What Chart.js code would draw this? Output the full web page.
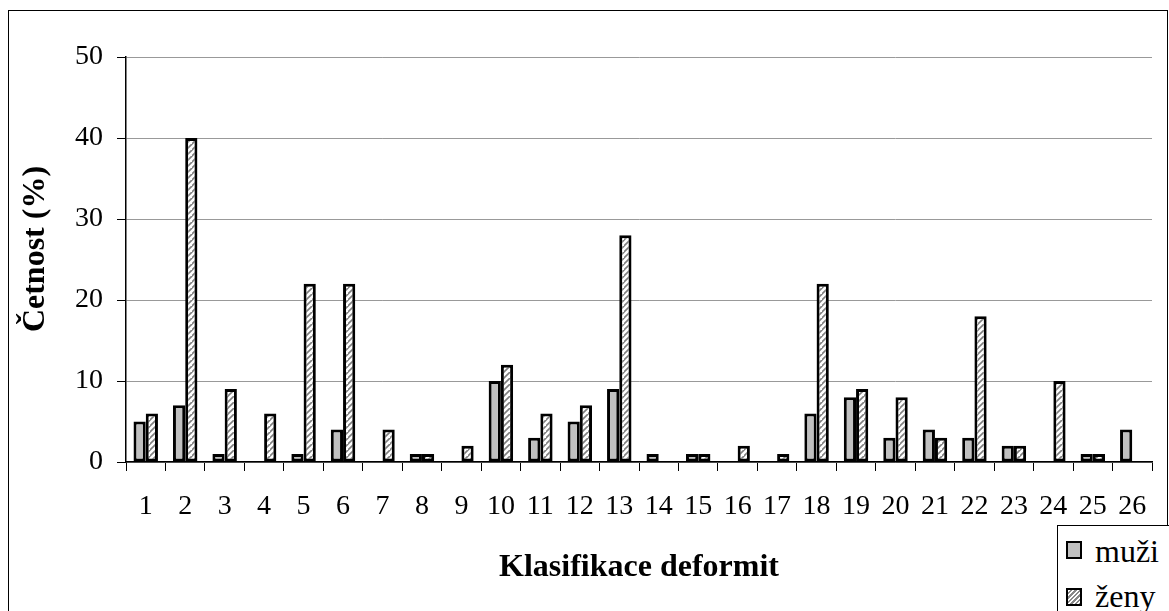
<!DOCTYPE html>
<html>
<head>
<meta charset="utf-8">
<script src="https://cdn.jsdelivr.net/npm/chart.js@4.4.0/dist/chart.umd.min.js"></script>
<style>
  html, body { margin: 0; padding: 0; background: #fff; overflow: hidden; }
  #wrap { position: relative; width: 1169px; height: 611px; }
  canvas { display: block; }
  #frame { position: absolute; left: 8px; top: 10px; width: 1160px; height: 640px; border: 1px solid #000; box-sizing: border-box; pointer-events: none; }
  #legend { position: absolute; left: 1057px; top: 525px; width: 130px; height: 100px; border: 1px solid #000; background: #fff; box-sizing: border-box; font-family: "Liberation Serif", "Times New Roman", serif; font-size: 32px; line-height: 32px; color: #000; }
  .txt { position: absolute; left: 37px; white-space: nowrap; }
  .sw { position: absolute; left: 8px; width: 12px; height: 14px; border: 2px solid #000; }
  .sw.m { background: #c0c0c0; }
  .sw.z { background: repeating-linear-gradient(135deg, #fff 0px, #fff 1.6px, #888 1.6px, #888 3.2px); }
</style>
</head>
<body>
<div id="wrap">
  <canvas id="c" width="1169" height="611"></canvas>
  <div id="frame"></div>
  <div id="legend">
    <div class="sw m" style="top:15px"></div><span class="txt" style="top:9px">muži</span>
    <div class="sw z" style="top:62px"></div><span class="txt" style="top:54px">ženy</span>
  </div>
</div>
<script>
const categories = ["1","2","3","4","5","6","7","8","9","10","11","12","13","14","15","16","17","18","19","20","21","22","23","24","25","26"];
const muzi = [5,7,1,0,1,4,0,1,0,10,3,5,9,1,1,0,0,6,8,3,4,3,2,0,1,4];
const zeny = [6,40,9,6,22,22,4,1,2,12,6,7,28,0,1,2,1,22,9,8,3,18,2,10,1,0];
const yTicks = [0,10,20,30,40,50];
const seriesNames = ["muži","ženy"];
const xTitle = "Klasifikace deformit";
const yTitle = "Četnost (%)";

function hatch() {
  const s = 6;
  const c = document.createElement('canvas');
  c.width = s; c.height = s;
  const g = c.getContext('2d');
  g.fillStyle = '#fff';
  g.fillRect(0,0,s,s);
  g.strokeStyle = '#7f7f7f';
  g.lineWidth = 1.6;
  g.beginPath();
  g.moveTo(-1, s+1); g.lineTo(s+1, -1);
  g.moveTo(-1 - s, s+1); g.lineTo(1, -1);
  g.moveTo(s-1, 2*s+1); g.lineTo(2*s+1, s-1);
  g.stroke();
  return g.createPattern(c, 'repeat');
}

const FONT = "'Liberation Serif', 'Times New Roman', serif";

const yTitlePlugin = {
  id: 'yTitle',
  afterDraw(chart) {
    const ctx = chart.ctx;
    ctx.save();
    ctx.translate(36, 249);
    ctx.rotate(-Math.PI / 2);
    ctx.font = "bold 32px " + FONT;
    ctx.fillStyle = '#000';
    ctx.textAlign = 'center';
    ctx.textBaseline = 'middle';
    ctx.fillText(yTitle, 0, 0);
    ctx.restore();
  }
};

new Chart(document.getElementById('c'), {
  type: 'bar',
  data: {
    labels: categories,
    datasets: [
      { label: seriesNames[0], data: muzi, backgroundColor: '#c0c0c0', borderColor: '#000', borderWidth: 3, borderSkipped: false, inflateAmount: 0 },
      { label: seriesNames[1], data: zeny, backgroundColor: hatch(), borderColor: '#000', borderWidth: 3, borderSkipped: false, inflateAmount: 0 }
    ]
  },
  plugins: [yTitlePlugin],
  options: {
    responsive: false,
    animation: false,
    devicePixelRatio: 1,
    layout: { padding: { left: 0, top: 57, right: 17, bottom: 0 } },
    datasets: { bar: { categoryPercentage: 0.62, barPercentage: 1 } },
    plugins: { legend: { display: false }, tooltip: { enabled: false } },
    scales: {
      x: {
        grid: { offset: true, drawOnChartArea: false, tickLength: 9, tickColor: '#000', lineWidth: 1 },
        border: { color: '#000', width: 1.5 },
        ticks: { color: '#000', font: { family: FONT, size: 28 }, padding: 19, maxRotation: 0, autoSkip: false },
        title: { display: true, text: xTitle, color: '#000', font: { family: FONT, size: 32, weight: 'bold' }, padding: { top: 0, bottom: 24 } },
        afterFit: s => { s.height = 611 - 462; }
      },
      y: {
        min: 0, max: 50,
        afterBuildTicks: s => { s.ticks = yTicks.map(v => ({ value: v })); },
        grid: { color: '#999', lineWidth: 1, tickLength: 9, tickColor: '#000' },
        border: { color: '#000', width: 1.5 },
        ticks: { color: '#000', font: { family: FONT, size: 28 }, padding: 14 },
        title: { display: false },
        afterFit: s => { s.width = 126; }
      }
    }
  }
});
</script>
</body>
</html>
